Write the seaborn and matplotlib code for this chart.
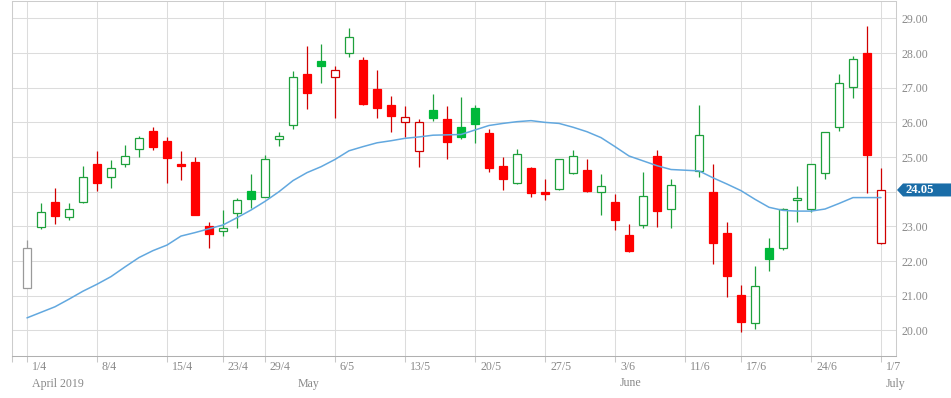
import numpy as np
import pandas as pd
import matplotlib
matplotlib.use('Agg')
import matplotlib.pyplot as plt
import seaborn as sns
from matplotlib.patches import Polygon
from matplotlib.transforms import ScaledTranslation

sns.set_theme(style='whitegrid')
plt.rcParams['font.family'] = ['Liberation Serif', 'DejaVu Serif']

# Daily OHLC, one entry per trading day from 1/4/2019 to 1/7/2019 (11/6 has no data)
opens = [21.21, 22.99, 23.70, 23.28, 23.69, 24.80, 24.41, 24.79, 25.22, 25.75,
         25.46, 24.81, 24.86, 23.00, 22.86, 23.38, 24.01, 23.86, 25.51, 25.91,
         27.39, 27.77, 27.30, 27.99, 27.80, 26.96, 26.50, 26.00, 25.16, 26.36,
         26.10, 25.87, 26.41, 25.69, 24.74, 24.24, 24.68, 23.98, 24.07, 24.53,
         24.63, 23.98, 23.70, 22.75, 23.03, 25.03, 23.49, np.nan, 24.59, 23.99,
         22.81, 21.02, 20.20, 22.37, 22.37, 23.75, 23.49, 24.53, 25.86, 27.01,
         28.00, 22.51]
highs = [22.61, 23.66, 24.12, 23.66, 24.74, 25.16, 24.90, 25.34, 25.61, 25.86,
         25.58, 25.16, 25.00, 23.12, 23.46, 23.83, 24.51, 25.06, 25.71, 27.48,
         28.20, 28.26, 27.63, 28.71, 27.88, 27.50, 26.75, 26.46, 26.10, 26.81,
         26.46, 26.73, 26.49, 25.80, 24.99, 25.23, 24.71, 24.38, 24.95, 25.19,
         24.93, 24.51, 23.94, 23.06, 24.56, 25.19, 24.36, np.nan, 26.49, 24.80,
         23.12, 21.31, 21.86, 22.65, 23.52, 24.16, 24.81, 25.73, 27.39, 27.91,
         28.78, 24.67]
lows = [21.21, 22.91, 23.06, 23.17, 23.66, 24.01, 24.10, 24.70, 24.99, 25.21,
        24.24, 24.33, 23.32, 22.39, 22.72, 22.95, 23.52, 23.84, 25.31, 25.80,
        26.38, 27.13, 26.14, 27.89, 26.51, 26.12, 25.71, 25.57, 24.70, 26.04,
        24.95, 25.51, 25.41, 24.58, 24.06, 24.22, 23.86, 23.76, 24.05, 24.51,
        24.00, 23.33, 22.89, 22.27, 22.94, 22.97, 22.94, np.nan, 24.41, 21.92,
        20.95, 19.96, 20.03, 21.70, 22.32, 23.13, 23.41, 24.38, 25.75, 26.69,
        23.95, 22.50]
closes = [22.39, 23.40, 23.31, 23.49, 24.41, 24.24, 24.67, 25.02, 25.54, 25.30,
          24.98, 24.75, 23.34, 22.79, 22.95, 23.75, 23.80, 24.93, 25.61, 27.30,
          26.86, 27.63, 27.50, 28.45, 26.54, 26.42, 26.19, 26.15, 26.00, 26.14,
          25.44, 25.59, 25.96, 24.69, 24.38, 25.08, 23.97, 23.92, 24.93, 25.04,
          24.02, 24.15, 23.17, 22.30, 23.89, 23.45, 24.18, np.nan, 25.63, 22.53,
          21.56, 20.25, 21.28, 22.05, 23.49, 23.83, 24.79, 25.71, 27.13, 27.82,
          25.07, 24.05]
# moving average line
ma = [20.36, 20.52, 20.68, 20.90, 21.13, 21.33, 21.55, 21.83, 22.10, 22.30,
      22.46, 22.72, 22.82, 22.93, 23.04, 23.25, 23.47, 23.72, 24.00, 24.32,
      24.55, 24.72, 24.93, 25.18, 25.30, 25.41, 25.47, 25.54, 25.58, 25.63,
      25.64, 25.65, 25.78, 25.91, 25.97, 26.02, 26.05, 26.00, 25.97, 25.86,
      25.73, 25.56, 25.30, 25.03, 24.89, 24.75, 24.64, 24.62, 24.60, 24.40,
      24.22, 24.03, 23.78, 23.55, 23.46, 23.44, 23.44, 23.50, 23.66, 23.83,
      23.83, 23.83]

week_ticks = [0, 5, 10, 14, 17, 22, 27, 32, 37, 42, 47, 51, 56, 61]
week_labels = ['1/4', '8/4', '15/4', '23/4', '29/4', '6/5', '13/5', '20/5',
               '27/5', '3/6', '11/6', '17/6', '24/6', '1/7']
month_ticks = [0, 19, 42, 61]
month_labels = ['April 2019', 'May', 'June', 'July']
last_price = 24.05

df = pd.DataFrame({'open': opens, 'high': highs, 'low': lows,
                   'close': closes, 'ma': ma})
df['idx'] = np.arange(len(df))

# candle colours: green/red vs previous close, hollow when close > open
RED_FILL, RED_EDGE = '#ff0000', '#d00000'
GREEN_FILL, GREEN_EDGE = '#00b83a', '#1ea03c'
GREY = '#9a9a9a'

prev_close = df['close'].ffill().shift(1)
edge, face = [], []
for i, row in df.iterrows():
    if np.isnan(prev_close[i]):
        e, f = GREY, GREY
    elif row['close'] >= prev_close[i]:
        e, f = GREEN_EDGE, GREEN_FILL
    else:
        e, f = RED_EDGE, RED_FILL
    edge.append(e)
    face.append('white' if row['close'] > row['open'] else f)
df['edge'] = edge
df['face'] = face

fig = plt.figure(figsize=(9.51, 3.98), dpi=100)
ax = fig.add_axes([12 / 951, 42 / 398, 884 / 951, 355.3 / 398])

d = df.dropna(subset=['close'])
ax.vlines(d['idx'], d['low'], d['high'], colors=d['edge'], lw=0.9, zorder=2)
body_lo = d[['open', 'close']].min(axis=1)
body_h = (d['open'] - d['close']).abs().clip(lower=0.04)
edges = [e if f == 'white' else f for e, f in zip(d['edge'], d['face'])]
ax.bar(d['idx'], body_h, bottom=body_lo, width=0.64, color=d['face'],
       edgecolor=edges, linewidth=0.9, zorder=3)

sns.lineplot(x=df['idx'], y=df['ma'], ax=ax, color='#62a8df', lw=1.1, zorder=4)

ax.set_xlim(-1.07, 62.07)
ax.set_ylim(19.26, 29.51)
ax.set_xlabel('')
ax.set_ylabel('')

ax.set_xticks([-1.07] + week_ticks)
ax.set_xticklabels([])
ax.set_yticks(np.arange(20, 30))
ax.yaxis.tick_right()
# the 24.00 label sits under the last-price marker
ax.yaxis.set_major_formatter(matplotlib.ticker.FuncFormatter(
    lambda v, p: '' if abs(v - last_price) < 0.4 else f'{v:.2f}'))
ax.tick_params(axis='y', length=0, pad=3.6, labelsize=8.6, labelcolor='#8a8a8a')
ax.tick_params(axis='x', bottom=True, length=4.5, width=0.75, color='#c8c8c8',
               direction='out')
ax.grid(True, color='#dcdcdc', lw=0.75)
for s in ax.spines.values():
    s.set_color('#cccccc')
    s.set_linewidth(0.75)
ax.spines['bottom'].set_color('#b0b0b0')

# day and month labels below the axis, left aligned next to the tick
day_tr = ax.get_xaxis_transform() + ScaledTranslation(0.05, -0.055, fig.dpi_scale_trans)
for x, lab in zip(week_ticks, week_labels):
    ax.text(x, 0, lab, transform=day_tr, ha='left', va='top', fontsize=8.6,
            color='#8a8a8a')
mon_tr = ax.get_xaxis_transform() + ScaledTranslation(0.05, -0.215, fig.dpi_scale_trans)
for x, lab in zip(month_ticks, month_labels):
    ax.text(x, 0, lab, transform=mon_tr, ha='left', va='top', fontsize=8.6,
            color='#8a8a8a')

# last price marker on the right axis
yp = ax.transData.transform((0, last_price))[1]
pts = [(897, yp), (903, yp + 6.5), (951, yp + 6.5), (951, yp - 6.5), (903, yp - 6.5)]
fig.patches.append(Polygon(pts, closed=True, transform=None, facecolor='#1a6da8',
                           edgecolor='none'))
fig.text(906 / 951, yp / 398, f'{last_price:.2f}', color='white', fontsize=9.2,
         fontweight='bold', ha='left', va='center')

plt.savefig('out.png', dpi=100)
